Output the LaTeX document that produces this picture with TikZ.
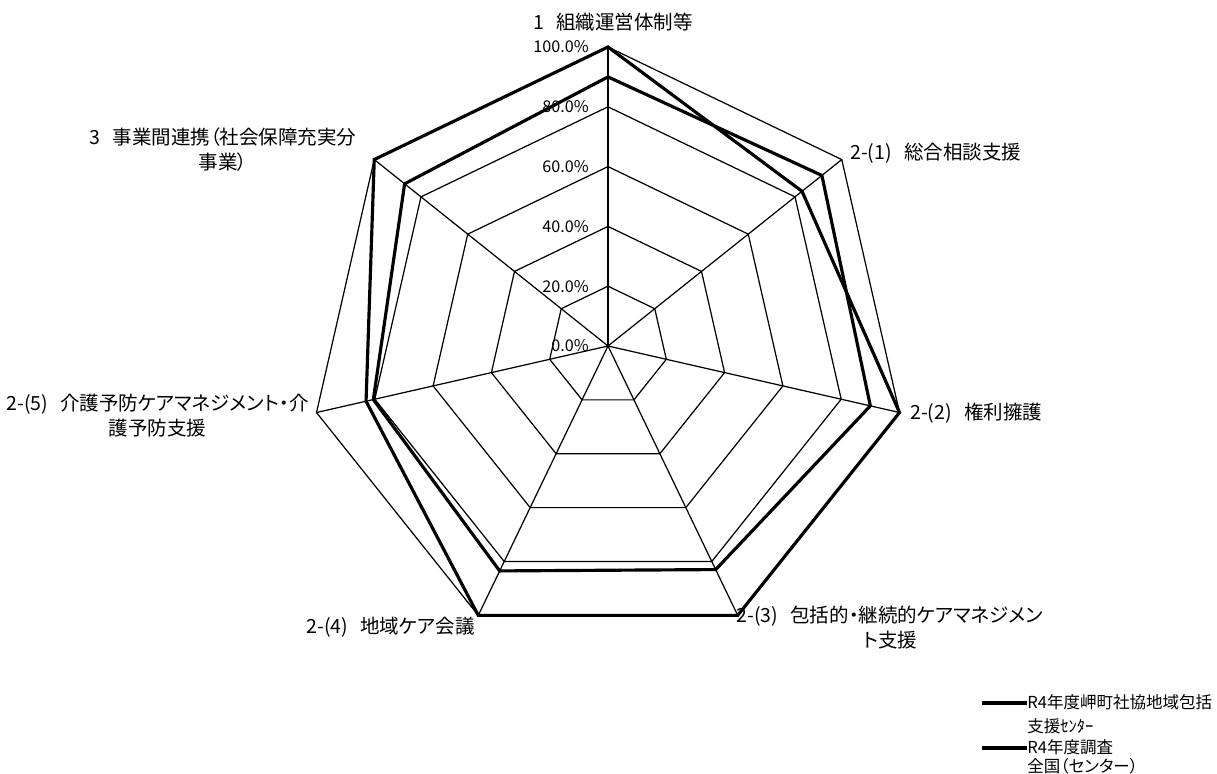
\documentclass[tikz,border=0pt]{standalone}
\usepackage{fontspec}
\setmainfont{Noto Sans CJK JP}[RawFeature=+palt]
\usepackage{tikz}
\newcommand\lblgap{\hspace{0.62em}}
\tikzset{
  gridline/.style={line width=0.7pt},
  series/.style={line width=1.8pt},
  axislabel/.style={font=\fontsize{11.1}{14.2}\selectfont, inner sep=0pt, align=center},
  pctlabel/.style={font=\fontsize{9.2}{10}\selectfont, inner sep=0pt, anchor=east},
  legendtext/.style={font=\fontsize{9.4}{13.6}\selectfont, inner sep=0pt, anchor=west, align=left}
}

\begin{document}
\begin{tikzpicture}
  \useasboundingbox (-12.16,6.92) rectangle (12.18,-8.56);

  % spokes and rings
  \foreach \k in {0,...,6} {
    \draw[gridline] (0,0) -- ({90-360/7*\k}:5.98);
  }
  \foreach \r in {20,40,60,80,100} {
    \draw[gridline] (90:{5.98*\r/100})
      \foreach \k in {1,...,6} { -- ({90-360/7*\k}:{5.98*\r/100}) } -- cycle;
  }

  % the two series
  \foreach \v [count=\k from 0] in {100,83,100,100,100,83,100} {
    \coordinate (a\k) at ({90-360/7*\k}:{5.98*\v/100});
  }
  \foreach \v [count=\k from 0] in {90,91.5,90,83,83.5,80.5,87} {
    \coordinate (b\k) at ({90-360/7*\k}:{5.98*\v/100});
  }
  \draw[series] (a0) -- (a1) -- (a2) -- (a3) -- (a4) -- (a5) -- (a6) -- cycle;
  \draw[series] (b0) -- (b1) -- (b2) -- (b3) -- (b4) -- (b5) -- (b6) -- cycle;

  % scale
  \foreach \r in {0,20,40,60,80,100} {
    \node[pctlabel] (p\r) at (-0.38,{5.98*\r/100}) {\r.0\%};
  }

  % axis names
  \node[axislabel] (l0) at (0.1,6.48) {1\lblgap 組織運営体制等};
  \node[axislabel, anchor=west] (l1) at (4.84,3.86) {2-(1)\lblgap 総合相談支援};
  \node[axislabel, anchor=west] (l2) at (6.04,-1.34) {2-(2)\lblgap 権利擁護};
  \node[axislabel] (l3) at (5.64,-5.63) {2-(3)\lblgap 包括的・継続的ケアマネジメン\\ト支援};
  \node[axislabel, anchor=east] (l4) at (-2.66,-5.62) {2-(4)\lblgap 地域ケア会議};
  \node[axislabel] (l5) at (-9.01,-1.39) {2-(5)\lblgap 介護予防ケアマネジメント・介\\護予防支援};
  \node[axislabel] (l6) at (-7.70,3.92) {3\lblgap 事業間連携（社会保障充実分\\事業）};

  % legend
  \coordinate (k1) at (7.48,-7.14);
  \coordinate (k2) at (7.48,-8.04);
  \node[legendtext] (t1) at (8.38,-7.36) {R4年度岬町社協地域包括\\支援ｾﾝﾀｰ};
  \node[legendtext] (t2) at (8.38,-8.22) {R4年度調査\\[-0.1cm]全国（センター）};
  \draw[series] (k1) -- (k1 -| t1.west);
  \draw[series] (k2) -- (k2 -| t2.west);
\end{tikzpicture}
\end{document}
